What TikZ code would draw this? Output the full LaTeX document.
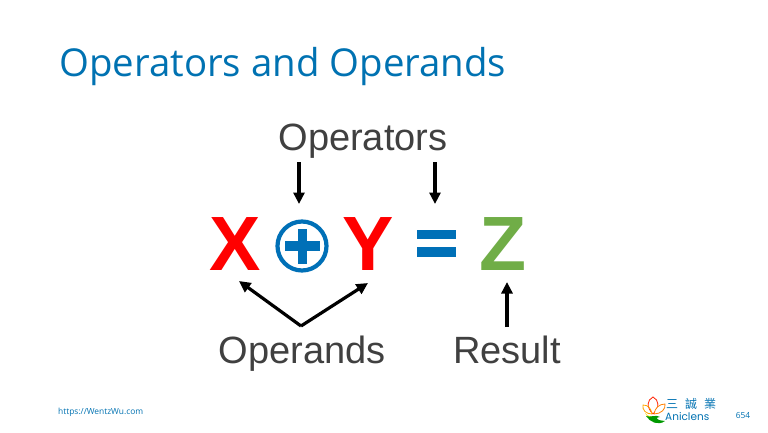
\documentclass[tikz,border=0pt]{standalone}
\usepackage{fontspec}
\setmainfont{Liberation Sans}
\newfontfamily\titlefont{Open Sans}
\newfontfamily\cjkfont{Noto Sans CJK TC}
\newfontfamily\brandfont{Poppins}
\usetikzlibrary{arrows.meta}
\definecolor{tblue}{RGB}{0,114,178}
\definecolor{opblue}{RGB}{0,112,183}
\definecolor{zgreen}{RGB}{112,173,71}
\definecolor{labelgray}{RGB}{64,64,64}
\tikzset{
  sym/.style={inner sep=0pt,font=\fontsize{77}{77}\selectfont\bfseries,anchor=center},
  lab/.style={inner sep=0pt,text=labelgray,font=\fontsize{38}{38}\selectfont,anchor=base},
  arrowline/.style={line width=3.2pt,black,-{Triangle[length=11.5pt,width=11pt]}},
  small/.style={inner sep=0pt,text=tblue,font=\titlefont\fontsize{8.4}{8.4}\selectfont}
}
\begin{document}
\begin{tikzpicture}[x=1pt,y=-1pt]
\useasboundingbox (0,0) rectangle (768,432);
\fill[white] (0,0) rectangle (768,432);
\node[inner sep=0pt,anchor=base west,text=tblue,font=\titlefont\fontsize{38.4}{38.4}\selectfont] (title) at (59,76.5) {Operators and Operands};
\node[lab] (operators) at (363,150.5) {Operators};
\node[lab] (operands) at (302,363.5) {Operands};
\node[lab] (result) at (507,363.5) {Result};
\node[sym,text=red] (x) at (235,244) {X};
\node[sym,text=red] (y) at (368,244) {Y};
\node[sym,text=zgreen] (z) at (503.5,244) {Z};
\node[circle,draw=opblue,line width=4.2pt,minimum size=49pt,inner sep=0pt] (plus) at (302,246) {};
\fill[opblue] (284.5,241) rectangle (320,251);
\fill[opblue] (297.5,228.5) rectangle (307,263.5);
\node[inner sep=0pt,minimum width=39pt,minimum height=9.5pt,fill=opblue] (eqa) at (436.5,234.5) {};
\node[inner sep=0pt,minimum width=39pt,minimum height=9.5pt,fill=opblue] (eqb) at (436.5,252) {};
\coordinate (a1) at (299,162);
\coordinate (a1e) at (299,204);
\coordinate (a2) at (435,162);
\coordinate (a2e) at (435,204);
\coordinate (apex) at (301,326);
\coordinate (xe) at (239,281);
\coordinate (ye) at (368,283);
\coordinate (r1) at (507,327);
\coordinate (r1e) at (507,282);
\draw[arrowline] (a1) -- (a1e);
\draw[arrowline] (a2) -- (a2e);
\draw[arrowline] (apex) -- (xe);
\draw[arrowline] (apex) -- (ye);
\draw[arrowline] (r1) -- (r1e);
\node[small,anchor=west] (url) at (58,412) {https://WentzWu.com};
\node[small] (page) at (743,415) {654};
% logo
\begin{scope}[line width=0.8pt]
\draw[red!75!orange,fill=white] (653,414) .. controls (646,407) and (647,400) .. (653,397) .. controls (659,400) and (660,407) .. (653,414);
\draw[orange,fill=white] (654,414) .. controls (655,408) and (659,404) .. (665,404) .. controls (666,409) and (661,414) .. (654,414);
\draw[orange!70!yellow] (652,414) .. controls (651,408) and (648,405) .. (643,405) .. controls (642,410) and (646,414) .. (652,414);
\fill[yellow!85!orange] (645,413) .. controls (648,417) and (652,417) .. (656,416) .. controls (652,419) and (647,418) .. (645,413);
\fill[green!60!black] (646,416) .. controls (650,418) and (656,414) .. (660,417) .. controls (656,417) and (654,420) .. (665,421) .. controls (658,426) and (650,422) .. (646,416);
\end{scope}
\node[inner sep=0pt,text=tblue,font=\cjkfont\fontsize{12}{12}\selectfont] (cjk) at (691,404) {三\hspace{7pt}誠\hspace{7pt}業};
\node[inner sep=0pt,text=tblue,font=\brandfont\fontsize{10.5}{10.5}\selectfont,anchor=west] (brand) at (665,417) {Aniclens};
\end{tikzpicture}
\end{document}
